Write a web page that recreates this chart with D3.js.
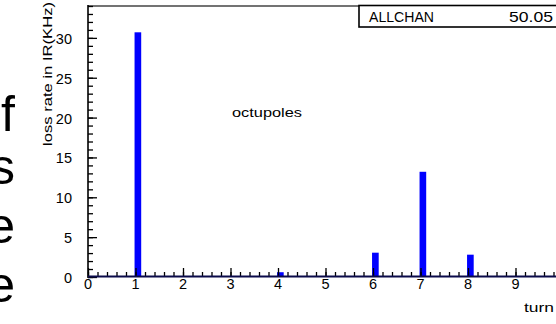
<!DOCTYPE html>
<html>
<head>
<meta charset="utf-8">
<script src="https://d3js.org/d3.v7.min.js"></script>
<style>
  html, body { margin: 0; padding: 0; background: #fff; }
  svg { display: block; }
  text { font-family: "Liberation Sans", Arial, Helvetica, sans-serif; }
</style>
</head>
<body>
<script>
// Histogram contents: loss rate per turn
const turns = [1, 4, 6, 7, 8];
const lossRate = [30.7, 0.6, 3.05, 13.2, 2.8];

// Axis tick labels
const xTickLabels = [0, 1, 2, 3, 4, 5, 6, 7, 8, 9];
const yTickLabels = [0, 5, 10, 15, 20, 25, 30];

// Text around the histogram
const yTitle = "loss rate in IR(KHz)";
const xTitle = "turn";
const annotation = "octupoles";
const statName = "ALLCHAN";
const statValue = "50.05";
const sideLetters = ["f", "s", "e", "e"];

const W = 556, H = 324;
const svg = d3.select("body").append("svg").attr("width", W).attr("height", H);

const x = d3.scaleLinear().domain([0, 10]).range([88, 563]);
const y = d3.scaleLinear().domain([0, 34]).range([277, 6]);

// Slide text fragments at the left edge
const letterBase = [131, 184, 243, 302];
svg.append("g").selectAll("text").data(sideLetters).join("text")
  .attr("x", 15)
  .attr("y", (d, i) => letterBase[i])
  .attr("text-anchor", "end")
  .attr("font-size", 50)
  .attr("fill", "#000")
  .text(d => d);

// Frame top line
svg.append("line")
  .attr("x1", x(0)).attr("x2", W + 10)
  .attr("y1", y(34)).attr("y2", y(34))
  .attr("stroke", "#444").attr("stroke-width", 1.6);

// Bars
const barOffset = -0.02, barWidth = 0.14;
svg.append("g").selectAll("rect").data(turns).join("rect")
  .attr("x", d => x(d + barOffset))
  .attr("width", d => x(d + barOffset + barWidth) - x(d + barOffset))
  .attr("y", (d, i) => y(lossRate[i]))
  .attr("height", (d, i) => y(0) - y(lossRate[i]))
  .attr("fill", "#0000ff");

// Y axis (ticks inside the frame)
const yAxis = d3.axisRight(y).tickValues(yTickLabels).tickSize(9).tickFormat("");
const gy = svg.append("g").attr("transform", `translate(${x(0)},0)`).call(yAxis);
gy.select(".domain").remove();
gy.selectAll("line").attr("stroke", "#000").attr("stroke-width", 1.3);
const yMinor = d3.axisRight(y).tickValues(d3.range(0, 35, 1)).tickSize(5).tickFormat("");
const gym = svg.append("g").attr("transform", `translate(${x(0)},0)`).call(yMinor);
gym.select(".domain").remove();
gym.selectAll("line").attr("stroke", "#000").attr("stroke-width", 1.3);

svg.append("line")
  .attr("x1", x(0)).attr("x2", x(0))
  .attr("y1", y(34) - 1).attr("y2", y(0) + 1)
  .attr("stroke", "#000").attr("stroke-width", 1.6);

svg.append("g").selectAll("text").data(yTickLabels).join("text")
  .attr("x", 72)
  .attr("y", d => y(d) + 6)
  .attr("text-anchor", "end")
  .attr("font-size", 14.5)
  .attr("fill", "#000")
  .text(d => d);

// X axis (ticks inside the frame)
const xAxis = d3.axisTop(x).tickValues(d3.range(0, 11, 1)).tickSize(9).tickFormat("");
const gx = svg.append("g").attr("transform", `translate(0,${y(0)})`).call(xAxis);
gx.select(".domain").remove();
gx.selectAll("line").attr("stroke", "#000").attr("stroke-width", 1.3);
const xMinor = d3.axisTop(x).tickValues(d3.range(0, 51).map(i => i / 5)).tickSize(5).tickFormat("");
const gxm = svg.append("g").attr("transform", `translate(0,${y(0)})`).call(xMinor);
gxm.select(".domain").remove();
gxm.selectAll("line").attr("stroke", "#000").attr("stroke-width", 1.3);

svg.append("line")
  .attr("x1", x(0)).attr("x2", W + 10)
  .attr("y1", y(0) - 0.5).attr("y2", y(0) - 0.5)
  .attr("stroke", "#0a0a4a").attr("stroke-width", 2.2);

svg.append("g").selectAll("text").data(xTickLabels).join("text")
  .attr("x", d => x(d))
  .attr("y", 289)
  .attr("text-anchor", "middle")
  .attr("font-size", 14.5)
  .attr("fill", "#000")
  .text(d => d);

// Axis titles
svg.append("text")
  .attr("x", 554).attr("y", 312)
  .attr("text-anchor", "end")
  .attr("font-size", 13.5)
  .attr("textLength", 30).attr("lengthAdjust", "spacingAndGlyphs")
  .text(xTitle);

svg.append("text")
  .attr("transform", "translate(52,146) rotate(-90)")
  .attr("x", 0).attr("y", 0)
  .attr("font-size", 13.5)
  .attr("textLength", 144).attr("lengthAdjust", "spacingAndGlyphs")
  .text(yTitle);

// Annotation
svg.append("text")
  .attr("x", 232).attr("y", 117)
  .attr("font-size", 13.5)
  .attr("textLength", 70).attr("lengthAdjust", "spacingAndGlyphs")
  .text(annotation);

// Statistics box
svg.append("rect")
  .attr("x", 359).attr("y", y(34) - 0.5)
  .attr("width", 260).attr("height", 21.5)
  .attr("fill", "#fff").attr("stroke", "#000").attr("stroke-width", 1.6);
svg.append("text")
  .attr("x", 369).attr("y", 22)
  .attr("font-size", 14)
  .attr("textLength", 65).attr("lengthAdjust", "spacingAndGlyphs")
  .text(statName);
svg.append("text")
  .attr("x", 509).attr("y", 22)
  .attr("font-size", 14.5)
  .attr("textLength", 44).attr("lengthAdjust", "spacingAndGlyphs")
  .text(statValue);
</script>
</body>
</html>
